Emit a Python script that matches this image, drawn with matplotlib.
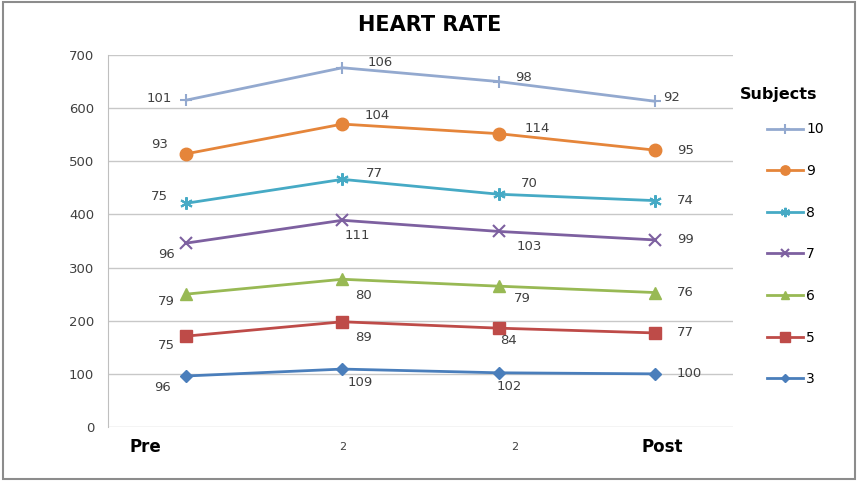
import matplotlib
matplotlib.use("Agg")
import matplotlib.pyplot as plt
from matplotlib.patches import Rectangle
import matplotlib.transforms as mtransforms

categories = ["Pre", "2", "2", "Post"]
subjects = ["3", "5", "6", "7", "8", "9", "10"]
s3 = [96, 109, 102, 100]
s5 = [75, 89, 84, 77]
s6 = [79, 80, 79, 76]
s7 = [96, 111, 103, 99]
s8 = [75, 77, 70, 74]
s9 = [93, 104, 114, 95]
s10 = [101, 106, 98, 92]
series = [s3, s5, s6, s7, s8, s9, s10]
yticks = [0, 100, 200, 300, 400, 500, 600, 700]

colors = ["#4a7ebb", "#be4b48", "#98b954", "#7d60a0", "#46aac5", "#e5853a", "#93a9cf"]
markers = ["D", "s", "^", "x", (6, 2, 0), "o", "+"]
msizes = [6, 9, 8, 8, 9, 9, 9]

# label offsets in points (dx, dy) per series per point
offsets = [
    [(-17, -8), (13, -10), (8, -10), (25, 0)],
    [(-14, -7), (15, -11), (7, -9), (22, 0)],
    [(-14, -5), (15, -12), (17, -9), (22, 0)],
    [(-14, -8), (11, -11), (22, -11), (22, 0)],
    [(-19, 5), (23, 4), (22, 8), (22, 0)],
    [(-19, 7), (25, 6), (28, 4), (22, 0)],
    [(-19, 1), (27, 4), (18, 3), (12, 3)],
]

fig = plt.figure(figsize=(8.59, 4.82), dpi=100)
ax = fig.add_axes([0.1257, 0.1141, 0.7276, 0.7718])

x = list(range(len(categories)))
cum = [0] * len(categories)
handles = []
for i, s in enumerate(series):
    cum = [c + v for c, v in zip(cum, s)]
    m = markers[i]
    mew = 1.5 if (m in ("x", "+") or isinstance(m, tuple)) else 1
    h, = ax.plot(x, cum, color=colors[i], marker=m, markersize=msizes[i],
                 linewidth=2, markeredgewidth=mew, label=subjects[i])
    handles.append(h)
    for j, (xv, yv) in enumerate(zip(x, cum)):
        dx, dy = offsets[i][j]
        ax.annotate(str(s[j]), (xv, yv), xytext=(dx, dy), textcoords="offset points",
                    ha="center", va="center", fontsize=9.5, color="#404040")

ax.set_xlim(-0.5, 3.5)
ax.set_ylim(0, 700)
ax.set_yticks(yticks)
ax.set_yticklabels([str(t) for t in yticks], fontsize=9.5, color="#404040")
ax.tick_params(axis="y", length=0, pad=10)
ax.set_xticks([])
ax.grid(axis="y", color="#c8c8c8", linewidth=1)
ax.set_axisbelow(True)
for sp in ["top", "right", "bottom"]:
    ax.spines[sp].set_visible(False)
ax.spines["left"].set_color("#bfbfbf")

trans = mtransforms.blended_transform_factory(ax.transData, ax.transAxes)
label_x = [-0.26, 1.0, 2.1, 3.05]
for lx, lab in zip(label_x, categories):
    big = lab in ("Pre", "Post")
    ax.text(lx, -0.055, lab, transform=trans, ha="center", va="center",
            fontsize=12 if big else 8, fontweight="bold" if big else "normal",
            color="#000000" if big else "#404040")

fig.text(0.5, 0.948, "HEART RATE", ha="center", va="center", fontsize=15, fontweight="bold")

fig.text(0.861, 0.803, "Subjects", ha="left", va="center", fontsize=11.5, fontweight="bold")
leg = fig.legend(handles[::-1], subjects[::-1], loc="upper left", bbox_to_anchor=(0.893, 0.746),
                 frameon=False, fontsize=10, labelspacing=1.99, borderpad=0,
                 handlelength=2.6, handletextpad=0.2, borderaxespad=0, markerscale=0.75)

fig.patches.append(Rectangle((0.004, 0.006), 0.991, 0.99, transform=fig.transFigure,
                             fill=False, edgecolor="#8c8c8c", linewidth=1.5))

fig.savefig("out.png", dpi=100)
